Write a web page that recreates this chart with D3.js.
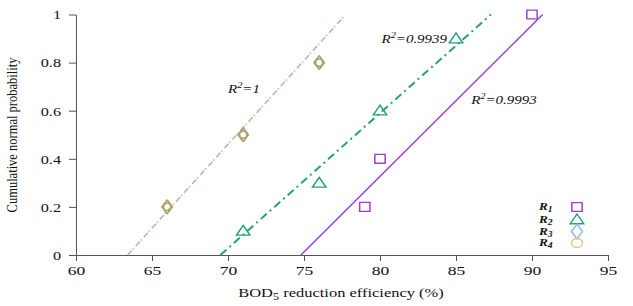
<!DOCTYPE html>
<html>
<head>
<meta charset="utf-8">
<script src="https://cdn.jsdelivr.net/npm/d3@7"></script>
<style>
  body { margin: 0; background: #fff; }
  svg text { font-family: "Liberation Serif", "DejaVu Serif", "Noto Serif", Times, serif !important; }
</style>
</head>
<body>
<div id="chart"></div>
<script>
// Data
const xTicks = [60, 65, 70, 75, 80, 85, 90, 95];
const yTicks = [0, 0.2, 0.4, 0.6, 0.8, 1];
const yTickLabels = ['0', '0.2', '0.4', '0.6', '0.8', '1'];

const r1Points = [[79, 0.2], [80, 0.4], [90, 1.0]];
const r2Points = [[71, 0.1], [76, 0.3], [80, 0.6], [85, 0.9]];
const r3Points = [[66, 0.2], [71, 0.5], [76, 0.8]];
const r4Points = [[66, 0.2], [71, 0.5], [76, 0.8]];

// fitted lines (start/end in data units)
const r1Fit = [[74.8, 0], [90.7, 1]];
const r2Fit = [[69.5, 0], [87.3, 1]];
const r34Fit = [[63.4, 0], [77.6, 0.99]];

const fitLabels = [
  { x: 70, y: 0.672, value: '1' },
  { x: 80.1, y: 0.88, value: '0.9939' },
  { x: 86.0, y: 0.628, value: '0.9993' }
];

const legendItems = ['R1', 'R2', 'R3', 'R4'];

const colors = {
  R1: '#9b3fd6',
  R2: '#27a07a',
  R3: '#93b9e0',
  R4: '#e8c078',
  olive: '#a8a46a'
};

// the source image is stretched sideways, so text is widened too
const stretch = 1.3;

// Layout
const width = 633, height = 306;
const svg = d3.select('#chart').append('svg')
  .attr('width', width)
  .attr('height', height);

const x = d3.scaleLinear().domain([60, 95]).range([76, 608]);
const y = d3.scaleLinear().domain([0, 1]).range([255, 14.5]);

// Axes
const xAxis = d3.axisBottom(x).tickValues(xTicks).tickSize(6).tickSizeOuter(0);
const yAxis = d3.axisLeft(y).tickValues(yTicks).tickSize(7).tickSizeOuter(0)
  .tickFormat((d, i) => yTickLabels[i]);

const gx = svg.append('g').attr('transform', 'translate(0,255)').call(xAxis);
gx.attr('font-family', null);
gx.select('.domain').attr('stroke', '#555');
gx.selectAll('.tick line').attr('stroke', '#555');
gx.selectAll('text')
  .attr('y', 20)
  .attr('dy', 0)
  .attr('transform', `scale(${stretch},1)`)
  .style('font-size', '13.5px')
  .attr('fill', '#111');

const gy = svg.append('g').attr('transform', 'translate(76,0)').call(yAxis);
gy.attr('font-family', null);
gy.select('.domain').attr('stroke', '#555');
gy.selectAll('.tick line').attr('stroke', '#555');
gy.selectAll('text')
  .attr('x', -15 / 1.2)
  .attr('transform', 'scale(1.2,1)')
  .style('font-size', '13.5px')
  .attr('fill', '#111');

// Axis titles
svg.append('text')
  .attr('transform', 'translate(17,135) rotate(-90) scale(1,1.15)')
  .attr('text-anchor', 'middle')
  .style('font-size', '12.5px')
  .attr('fill', '#111')
  .text('Cumulative normal probability');

const xt = svg.append('g').attr('transform', 'translate(341,297)')
  .append('text')
  .attr('transform', 'scale(1.22,1)')
  .attr('text-anchor', 'middle')
  .style('font-size', '13.5px')
  .attr('fill', '#111');
xt.append('tspan').text('BOD');
xt.append('tspan').attr('dy', 3).style('font-size', '10px').text('5');
xt.append('tspan').attr('dy', -3).text(' reduction efficiency (%)');

// Fit lines
const line = d3.line().x(d => x(d[0])).y(d => y(d[1]));

svg.append('path').datum(r34Fit).attr('d', line)
  .attr('fill', 'none').attr('stroke', colors.R3).attr('stroke-width', 1.5)
  .attr('stroke-dasharray', '6,6');
svg.append('path').datum(r34Fit).attr('d', line)
  .attr('fill', 'none').attr('stroke', colors.R4).attr('stroke-width', 1.8)
  .attr('stroke-dasharray', '1.5,4.5').attr('stroke-dashoffset', -7.5);

svg.append('path').datum(r2Fit).attr('d', line)
  .attr('fill', 'none').attr('stroke', colors.R2).attr('stroke-width', 2)
  .attr('stroke-dasharray', '8,4,2,4');

svg.append('path').datum(r1Fit).attr('d', line)
  .attr('fill', 'none').attr('stroke', colors.R1).attr('stroke-width', 1.5);

// Markers
const sq = d3.symbol().type(d3.symbolSquare).size(80);
const tri = d3.symbol().type(d3.symbolTriangle).size(55);
const dia = d3.symbol().type(d3.symbolDiamond).size(60);

svg.selectAll('.r1').data(r1Points).join('path')
  .attr('class', 'r1')
  .attr('d', sq)
  .attr('transform', d => `translate(${x(d[0])},${y(d[1])}) scale(1.15,1)`)
  .attr('fill', 'none').attr('stroke', colors.R1).attr('stroke-width', 1.3);

svg.selectAll('.r2').data(r2Points).join('path')
  .attr('class', 'r2')
  .attr('d', tri)
  .attr('transform', d => `translate(${x(d[0])},${y(d[1]) + 1}) scale(1.2,1)`)
  .attr('fill', 'none').attr('stroke', colors.R2).attr('stroke-width', 1.3);

svg.selectAll('.r4').data(r4Points).join('circle')
  .attr('class', 'r4')
  .attr('cx', d => x(d[0]))
  .attr('cy', d => y(d[1]))
  .attr('r', 3.6)
  .attr('fill', 'none').attr('stroke', colors.olive).attr('stroke-width', 1.6);

svg.selectAll('.r3').data(r3Points).join('path')
  .attr('class', 'r3')
  .attr('d', dia)
  .attr('transform', d => `translate(${x(d[0])},${y(d[1])}) scale(1.25,0.95)`)
  .attr('fill', 'none').attr('stroke', colors.olive).attr('stroke-width', 1.5)
  .attr('stroke-linejoin', 'round');

// R^2 labels
fitLabels.forEach(l => {
  const t = svg.append('g')
    .attr('transform', `translate(${x(l.x)},${y(l.y)})`)
    .append('text')
    .attr('transform', 'scale(1.15,1)')
    .style('font-size', '13px')
    .style('font-style', 'italic')
    .attr('fill', '#111');
  t.append('tspan').text('R');
  t.append('tspan').attr('dy', -5).style('font-size', '9px').text('2');
  t.append('tspan').attr('dy', 5).text('=' + l.value);
});

// Legend
const legendY = [207, 219.5, 231.5, 243];
legendItems.forEach((name, i) => {
  const t = svg.append('g')
    .attr('transform', `translate(539,${legendY[i] + 3})`)
    .append('text')
    .attr('transform', 'scale(1.2,1)')
    .style('font-size', '11px')
    .style('font-style', 'italic')
    .style('font-weight', 'bold')
    .attr('fill', '#111');
  t.append('tspan').text('R');
  t.append('tspan').attr('dy', 2).style('font-size', '8px').text(name.slice(1));
});

const lx = 577;
svg.append('path').attr('d', sq)
  .attr('transform', `translate(${lx},${legendY[0]}) scale(1.15,1)`)
  .attr('fill', 'none').attr('stroke', colors.R1).attr('stroke-width', 1.3);
svg.append('path').attr('d', tri)
  .attr('transform', `translate(${lx},${legendY[1] + 1}) scale(1.2,1)`)
  .attr('fill', 'none').attr('stroke', colors.R2).attr('stroke-width', 1.3);
svg.append('path').attr('d', dia)
  .attr('transform', `translate(${lx},${legendY[2]}) scale(1.3,1)`)
  .attr('fill', 'none').attr('stroke', colors.R3).attr('stroke-width', 1.3);
svg.append('ellipse')
  .attr('cx', lx).attr('cy', legendY[3])
  .attr('rx', 5.5).attr('ry', 4.5)
  .attr('fill', 'none').attr('stroke', colors.R4).attr('stroke-width', 1.3);
</script>
</body>
</html>
